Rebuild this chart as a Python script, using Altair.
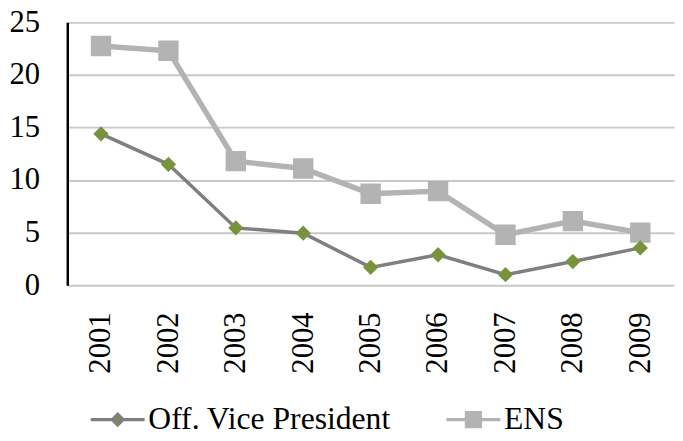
import altair as alt
import pandas as pd

years = ["2001", "2002", "2003", "2004", "2005", "2006", "2007", "2008", "2009"]
ovp = [14.4, 11.5, 5.45, 4.95, 1.7, 2.9, 1.0, 2.25, 3.55]
ens = [22.75, 22.3, 11.8, 11.1, 8.7, 8.95, 4.8, 6.1, 5.0]
series_names = ["Off. Vice President", "ENS"]

rows = []
for y, b in zip(years, ens):
    rows.append({"year": y, "series": series_names[1], "value": b})
for y, a in zip(years, ovp):
    rows.append({"year": y, "series": series_names[0], "value": a})
df = pd.DataFrame(rows)

FONT = "Liberation Serif"

# marker paths: legend line segment (open subpath, invisible when only filled) + marker
diamond = "M-5.2,0H-1M1,0H5.2M-1,0L0,-1L1,0L0,1Z"
square = "M-5.2,0H-1.33M1.33,0H5.2M-1.33,-1.33H1.33V1.33H-1.33Z"

x_enc = alt.X("year:N", sort=years, scale=alt.Scale(paddingOuter=0.5),
              axis=alt.Axis(title=None, labelAngle=-90, labelFont=FONT, labelFontSize=31,
                            labelColor="black", labelPadding=27, domain=False, ticks=False,
                            grid=False))
y_enc = alt.Y("value:Q", scale=alt.Scale(domain=[0, 25], nice=False),
              axis=alt.Axis(title=None, values=[0, 5, 10, 15, 20, 25], labelFont=FONT,
                            labelFontSize=31, labelColor="black", labelPadding=28,
                            ticks=False, domain=True, domainColor="black", domainWidth=2.5,
                            grid=True, gridColor="#c8c8c8", gridWidth=2))

stroke_scale = alt.Scale(domain=series_names, range=["#7f7f7f", "#b3b3b3"])
fill_scale = alt.Scale(domain=series_names, range=["#77933c", "#b3b3b3"])
shape_scale = alt.Scale(domain=series_names, range=[diamond, square])

base = alt.Chart(df)

line_ens = base.transform_filter(alt.datum.series == series_names[1]).mark_line(
    color="#b3b3b3", strokeWidth=5.5).encode(x=x_enc, y=y_enc)
line_ovp = base.transform_filter(alt.datum.series == series_names[0]).mark_line(
    color="#7f7f7f", strokeWidth=3.5).encode(x=x_enc, y=y_enc)

legend = alt.Legend(title=None, orient="none", legendX=25, legendY=386, direction="horizontal",
                    labelFont=FONT, labelFontSize=32, labelColor="black", labelLimit=400,
                    symbolSize=110, symbolStrokeWidth=3.5, symbolOffset=10, labelOffset=15,
                    columnPadding=48)

points = base.mark_point(filled=True, opacity=1, size=240).encode(
    x=x_enc, y=y_enc,
    fill=alt.Fill("series:N", scale=fill_scale, legend=legend),
    stroke=alt.Stroke("series:N", scale=stroke_scale, legend=legend),
    shape=alt.Shape("series:N", scale=shape_scale, legend=legend),
    strokeWidth=alt.value(0),
)

chart = alt.layer(line_ens, line_ovp, points).properties(
    width=614, height=266,
    autosize=alt.AutoSizeParams(type="none"),
    padding={"left": 60, "top": 12, "right": 1, "bottom": 147},
).configure_view(stroke=None)

chart.save("out.html", embed_options={"renderer": "svg", "actions": False})
